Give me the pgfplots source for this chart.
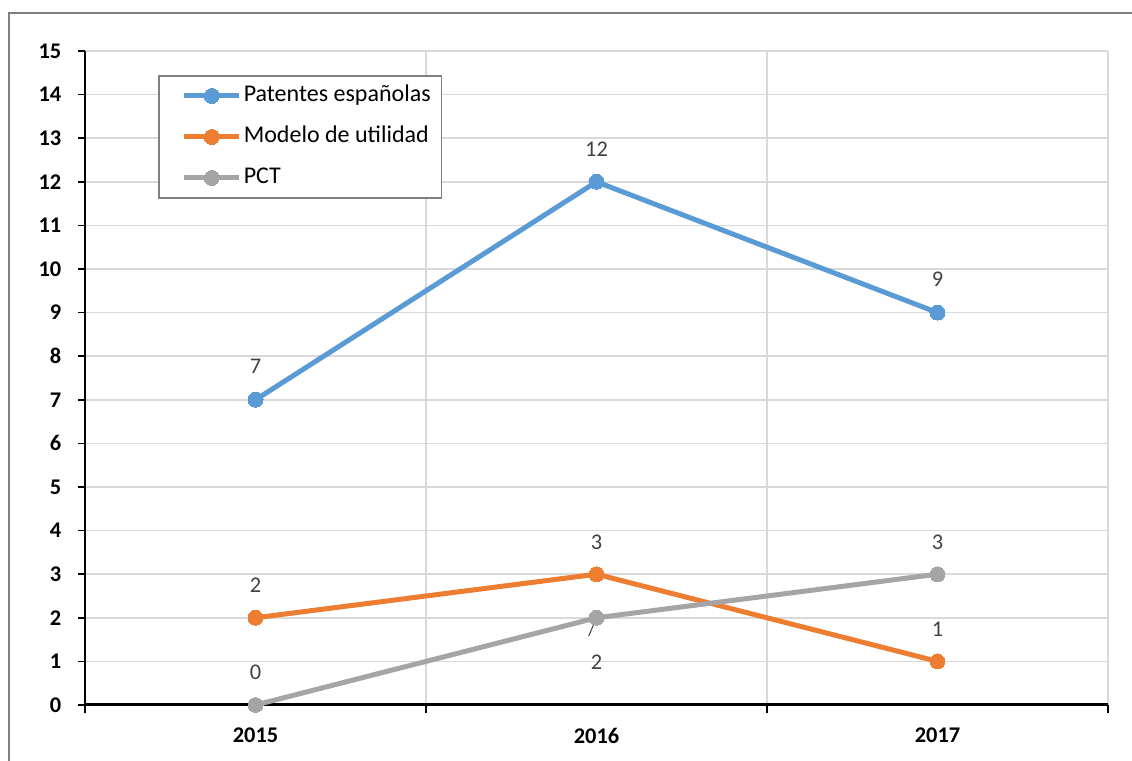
\documentclass[border=0pt]{standalone}
\usepackage{fontspec}
\setmainfont{Carlito}
\usepackage{pgfplots}
\pgfplotsset{compat=1.18}
\usepackage{pgfplotstable}
\definecolor{cblue}{HTML}{5B9BD5}
\definecolor{corange}{HTML}{ED7D31}
\definecolor{cgray}{HTML}{A5A5A5}
\definecolor{gridc}{HTML}{D9D9D9}
\definecolor{labc}{HTML}{404040}
\definecolor{framec}{HTML}{808080}

\pgfplotstableread{
x y dy
0 7 16.5
1 12 16.5
2 9 16.5
}\patentes
\pgfplotstableread{
x y dy
0 2 16.5
1 3 16
2 1 16
}\modelo
\pgfplotstableread{
x y dy
0 0 16.5
1 2 -22
2 3 16
}\pct

\begin{document}
\begin{tikzpicture}
\path[use as bounding box] (0,0) rectangle (566pt,380.5pt);
\draw[color=framec, line width=1pt] (4.5pt,0) -- (4.5pt,374pt) -- (566pt,374pt);
\begin{axis}[
  at={(42.5pt,28pt)}, anchor=south west,
  scale only axis, width=511.5pt, height=327pt,
  xmin=-0.5, xmax=2.5, ymin=0, ymax=15,
  axis x line=bottom, axis y line=left,
  axis line style={black, line width=1pt, -},
  x axis line style={line width=1.5pt},
  xtick={0,1,2}, xticklabels={2015,2016,2017},
  major x tick style={draw=none},
  minor xtick={-0.5,0.5,1.5,2.5},
  minor x tick style={black, line width=1pt},
  minor tick length=4pt,
  major tick length=3.5pt,
  xminorgrids=true,
  minor x grid style={gridc, line width=0.75pt},
  ytick={0,1,...,15},
  ymajorgrids=true,
  major y grid style={gridc, line width=0.75pt},
  y tick style={black, line width=0.8pt},
  tick align=outside,
  /pgf/number format/assume math mode=true,
  ticklabel style={font=\fontsize{11.2}{13}\selectfont\bfseries, text=black},
  yticklabel style={xshift=-4.8pt},
  xticklabel style={yshift=-4.5pt},
  clip=false,
  legend style={at={(0.0714,0.963)}, anchor=north west,
    draw=framec, line width=0.75pt, fill=white,
    font=\fontsize{12}{14}\selectfont,
    inner xsep=4.5pt, inner ysep=3.25pt, row sep=7pt,
    nodes={text height=8.5pt, text depth=3pt, inner xsep=1pt, inner ysep=1pt}},
  legend cell align=left,
  legend image code/.code={\path (0pt,0pt); \draw[#1, mark repeat=2, mark phase=2] plot coordinates {(7pt,0pt) (20.75pt,0pt) (34.5pt,0pt)};},
  every axis plot/.append style={line width=2.5pt, line join=round},
  nodes near coords={\pgfmathprintnumber{\pgfplotspointmeta}},
  every node near coord/.append style={anchor=center, yshift=\labdy pt,
    font=\fontsize{11.2}{13}\selectfont, text=labc},
  visualization depends on={\thisrow{dy} \as \labdy},
]
\addplot[cblue, mark=*, mark size=3.75pt, mark options={solid, fill=cblue, line width=0pt}] table[x=x, y=y] {\patentes};
\addlegendentry{Patentes españolas}
\addplot[corange, mark=*, mark size=3.75pt, mark options={solid, fill=corange, line width=0pt}] table[x=x, y=y] {\modelo};
\addlegendentry{Modelo de utilidad}
\addplot[cgray, mark=*, mark size=3.75pt, mark options={solid, fill=cgray, line width=0pt}] table[x=x, y=y] {\pct};
\addlegendentry{PCT}
\draw[labc, line width=0.5pt] (axis cs:0.991,1.835) -- (axis cs:0.977,1.58);
\end{axis}
\end{tikzpicture}
\end{document}
